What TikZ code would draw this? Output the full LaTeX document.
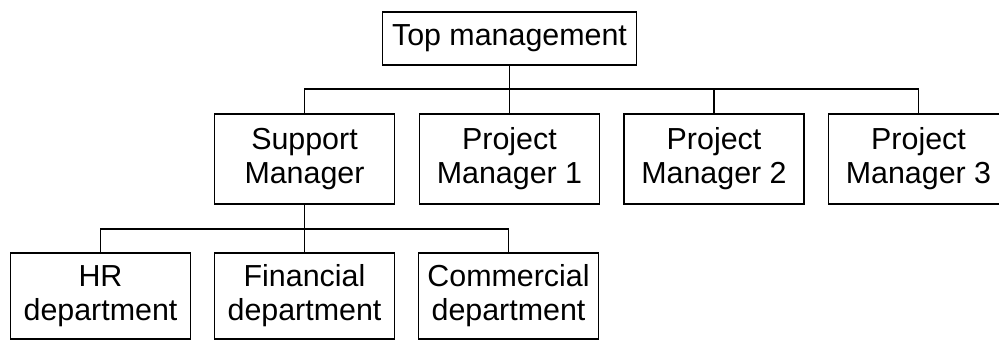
\documentclass[tikz,border=0pt]{standalone}
\usepackage{fontspec}
\setmainfont{Liberation Sans}
\begin{document}
\begin{tikzpicture}[x=1pt,y=-1pt,
  box/.style={draw=black,line width=1.6pt,rectangle,align=center,inner sep=0pt,
    font=\fontsize{30.4}{34}\selectfont},
  lvtwo/.style={box,minimum width=180pt,minimum height=90pt},
  lvthree/.style={box,minimum width=180pt,minimum height=86pt},
  conn/.style={draw=black,line width=1.6pt}]
\useasboundingbox (0,0) rectangle (999,340);
\node[box,minimum width=254pt,minimum height=53pt] (top) at (509.5,38.5) {Top management};
\node[lvtwo] (sm) at (304.5,159) {Support\\Manager};
\node[lvtwo] (pm1) at (509.5,159) {Project\\Manager 1};
\node[lvtwo] (pm2) at (714,159) {Project\\Manager 2};
\node[lvtwo] (pm3) at (918.5,159) {Project\\Manager 3};
\node[lvthree] (hr) at (100.5,296) {HR\\department};
\node[lvthree] (fin) at (304.5,296) {Financial\\department};
\node[lvthree] (com) at (508.5,296) {Commercial\\department};
\coordinate (bus1) at (0,89);
\coordinate (bus2) at (0,229);
\draw[conn] (top.south) -- (pm1.north);
\draw[conn] (sm.north) -- (sm.north |- bus1) -- (pm3.north |- bus1) -- (pm3.north);
\draw[conn] (pm2.north |- bus1) -- (pm2.north);
\draw[conn] (sm.south) -- (fin.north);
\draw[conn] (hr.north) -- (hr.north |- bus2) -- (com.north |- bus2) -- (com.north);
\end{tikzpicture}
\end{document}
